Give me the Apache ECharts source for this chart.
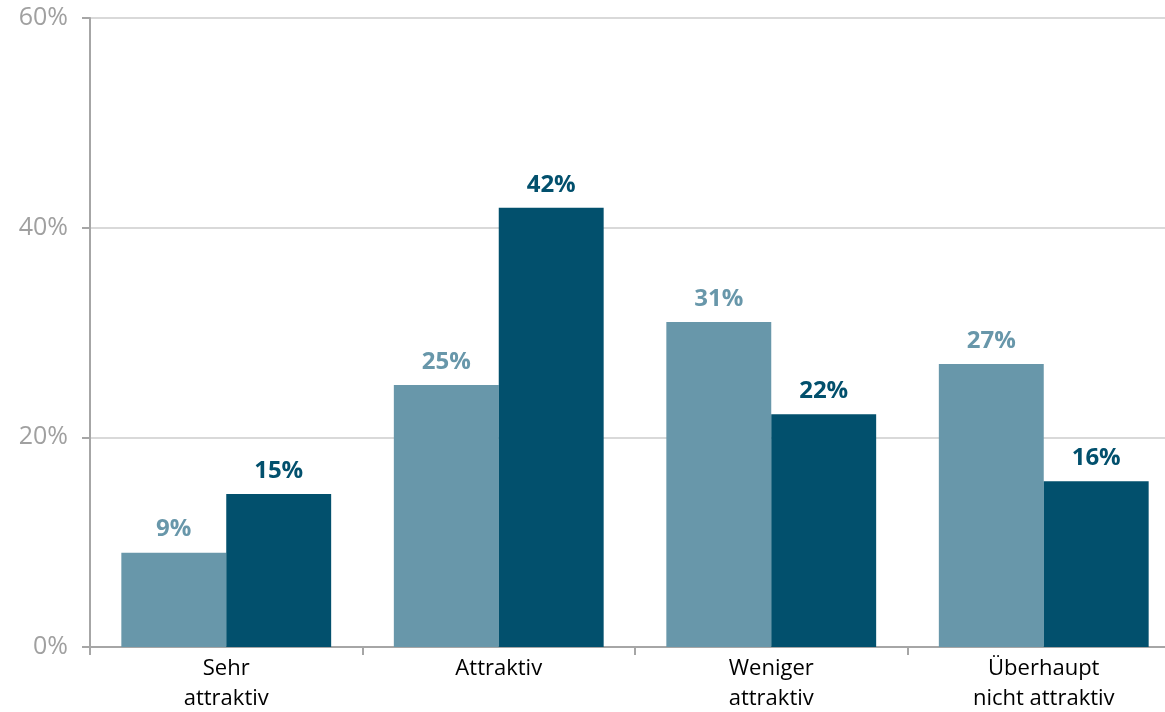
<!DOCTYPE html>
<html><head><meta charset="utf-8">
<script src="https://cdn.jsdelivr.net/npm/echarts@6/dist/echarts.min.js"></script>
<style>html,body{margin:0;padding:0;background:#fff}#c{width:1165px;height:712px}</style>
</head><body><div id="c"></div>
<script>
const categories = ["Sehr\nattraktiv", "Attraktiv", "Weniger\nattraktiv", "Überhaupt\nnicht attraktiv"];
const seriesA = [9, 25, 31, 27];
const seriesB = [14.6, 41.9, 22.2, 15.8];
const yTicks = [0, 20, 40, 60];
const colA = "#6897AA", colB = "#02506D";
const font = "Open Sans";
const chart = echarts.init(document.getElementById('c'));
const lbl = (c) => ({show: true, position: 'top', distance: 11, color: c, fontFamily: font, fontWeight: 'bold', fontSize: 24,
  formatter: p => Math.round(p.value) + '%'});
chart.setOption({
  animation: false,
  grid: {left: 90, width: 1090, top: 18, bottom: 65, outerBoundsMode: 'none', containLabel: false},
  xAxis: {type: 'category', data: categories,
    axisLine: {lineStyle: {color: '#A6A6A6', width: 2}},
    axisTick: {show: true, length: 8, lineStyle: {color: '#A6A6A6', width: 2}},
    axisLabel: {color: '#000', fontFamily: font, fontSize: 22, lineHeight: 30, margin: 7}},
  yAxis: {type: 'value', min: 0, max: 60, interval: 20,
    axisLine: {show: true, lineStyle: {color: '#A6A6A6', width: 2}},
    axisTick: {show: true, length: 8, lineStyle: {color: '#A6A6A6', width: 2}},
    splitLine: {lineStyle: {color: '#D9D9D9', width: 2}},
    axisLabel: {color: '#A0A0A0', fontFamily: font, fontSize: 25, margin: 22,
      formatter: v => yTicks.includes(v) ? v + '%' : ''}},
  series: [
    {type: 'bar', data: seriesA, barGap: '0%', barCategoryGap: '23%', itemStyle: {color: colA}, label: lbl(colA)},
    {type: 'bar', data: seriesB, itemStyle: {color: colB}, label: lbl(colB)}
  ]
});
</script></body></html>
